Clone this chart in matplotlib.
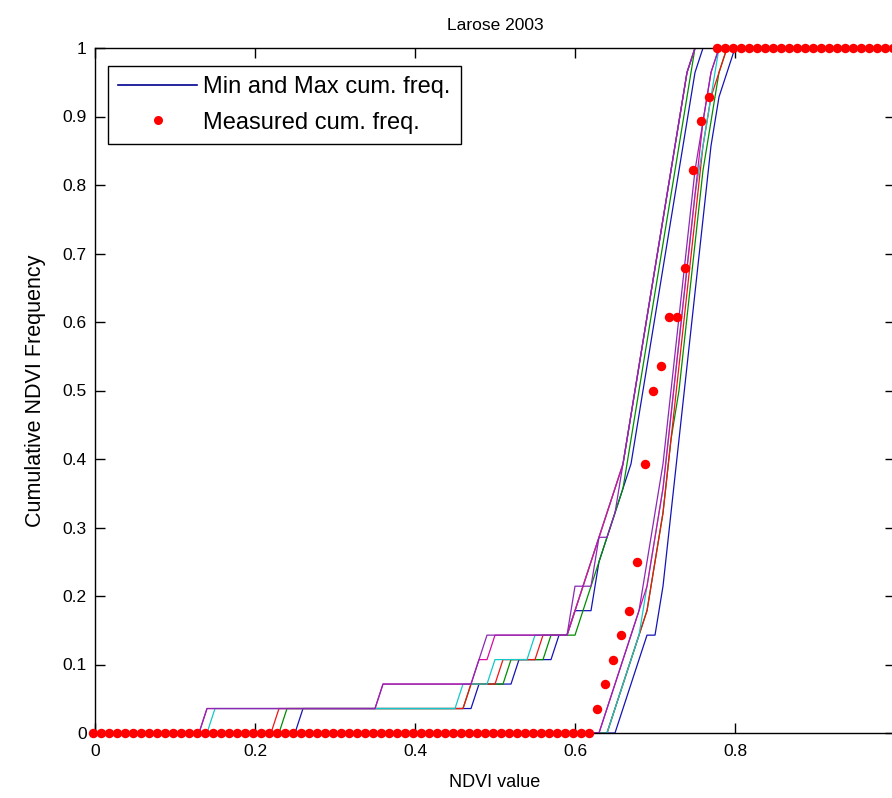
import numpy as np
import matplotlib
matplotlib.use("Agg")
import matplotlib.pyplot as plt
from matplotlib.lines import Line2D

plt.rcParams['font.family'] = ['Liberation Sans', 'DejaVu Sans']

# NDVI grid on which the cumulative frequencies are evaluated
ndvi_grid = np.round(np.arange(0, 101) * 0.01, 2)

# sample NDVI values (28 per curve)
measured = [0.63, 0.64, 0.65, 0.66, 0.67, 0.68, 0.68, 0.69, 0.69, 0.69, 0.69, 0.70, 0.70, 0.70,
            0.71, 0.72, 0.72, 0.74, 0.74, 0.75, 0.75, 0.75, 0.75, 0.76, 0.76, 0.77, 0.78, 0.78]

# lower envelope (min) curves
blue_min = [0.26, 0.48, 0.53, 0.58, 0.60, 0.63, 0.63, 0.64, 0.65, 0.66, 0.67, 0.68, 0.68, 0.69,
            0.69, 0.70, 0.70, 0.71, 0.71, 0.72, 0.72, 0.73, 0.73, 0.74, 0.74, 0.75, 0.75, 0.76]
green_min = [0.24, 0.47, 0.52, 0.57, 0.61, 0.62, 0.63, 0.64, 0.65, 0.66, 0.67, 0.67, 0.68, 0.68,
             0.69, 0.69, 0.70, 0.70, 0.71, 0.71, 0.72, 0.72, 0.73, 0.73, 0.74, 0.74, 0.75, 0.75]
red_min = [0.23, 0.47, 0.51, 0.56, 0.60, 0.61, 0.62, 0.63, 0.64, 0.65, 0.66, 0.67, 0.67, 0.68,
           0.68, 0.69, 0.69, 0.70, 0.70, 0.71, 0.71, 0.72, 0.72, 0.73, 0.73, 0.74, 0.74, 0.75]
cyan_min = [0.15, 0.46, 0.50, 0.55, 0.60, 0.61, 0.62, 0.63, 0.64, 0.65, 0.66, 0.67, 0.67, 0.68,
            0.68, 0.69, 0.69, 0.70, 0.70, 0.71, 0.71, 0.72, 0.72, 0.73, 0.73, 0.74, 0.74, 0.75]
magenta_min = [0.14, 0.36, 0.48, 0.50, 0.60, 0.61, 0.62, 0.63, 0.64, 0.65, 0.66, 0.67, 0.67, 0.68,
               0.68, 0.69, 0.69, 0.70, 0.70, 0.71, 0.71, 0.72, 0.72, 0.73, 0.73, 0.74, 0.74, 0.75]
purple_min = [0.14, 0.36, 0.48, 0.49, 0.60, 0.60, 0.63, 0.63, 0.65, 0.66, 0.66, 0.67, 0.67, 0.68,
              0.68, 0.69, 0.69, 0.70, 0.70, 0.71, 0.71, 0.72, 0.72, 0.73, 0.73, 0.74, 0.74, 0.75]

# upper envelope (max) curves
blue_max = [0.66, 0.67, 0.68, 0.69, 0.71, 0.71, 0.72, 0.72, 0.72, 0.73, 0.73, 0.73, 0.74, 0.74,
            0.74, 0.75, 0.75, 0.75, 0.76, 0.76, 0.76, 0.77, 0.77, 0.77, 0.78, 0.78, 0.79, 0.80]
green_max = [0.65, 0.66, 0.67, 0.68, 0.69, 0.70, 0.70, 0.71, 0.71, 0.72, 0.72, 0.72, 0.73, 0.73,
             0.74, 0.74, 0.74, 0.75, 0.75, 0.75, 0.76, 0.76, 0.76, 0.77, 0.77, 0.78, 0.78, 0.79]
red_max = [0.65, 0.66, 0.67, 0.68, 0.69, 0.70, 0.70, 0.71, 0.71, 0.72, 0.72, 0.72, 0.73, 0.73,
           0.73, 0.74, 0.74, 0.74, 0.75, 0.75, 0.75, 0.76, 0.76, 0.76, 0.77, 0.77, 0.78, 0.79]
cyan_max = [0.65, 0.66, 0.67, 0.68, 0.69, 0.69, 0.70, 0.70, 0.71, 0.71, 0.72, 0.72, 0.72, 0.73,
            0.73, 0.73, 0.74, 0.74, 0.74, 0.75, 0.75, 0.75, 0.76, 0.76, 0.77, 0.77, 0.78, 0.78]
magenta_max = [0.64, 0.65, 0.66, 0.67, 0.68, 0.69, 0.70, 0.70, 0.71, 0.71, 0.72, 0.72, 0.72, 0.73,
               0.73, 0.73, 0.74, 0.74, 0.74, 0.75, 0.75, 0.75, 0.76, 0.76, 0.76, 0.77, 0.77, 0.78]
purple_max = [0.64, 0.65, 0.66, 0.67, 0.68, 0.69, 0.69, 0.70, 0.70, 0.71, 0.71, 0.72, 0.72, 0.72,
              0.73, 0.73, 0.73, 0.74, 0.74, 0.74, 0.75, 0.75, 0.75, 0.76, 0.76, 0.77, 0.77, 0.78]

curves = [
    (blue_min, blue_max, '#1414b4'),
    (green_min, green_max, '#008c00'),
    (red_min, red_max, '#f01414'),
    (cyan_min, cyan_max, '#14c8c8'),
    (magenta_min, magenta_max, '#dc0aa0'),
    (purple_min, purple_max, '#8c28b4'),
]


def cum_freq(samples):
    s = np.array(samples)
    return np.array([(s <= x + 1e-9).sum() for x in ndvi_grid]) / len(s)


fig = plt.figure(figsize=(8.92, 7.98), dpi=100)
ax = fig.add_axes([95 / 892, 1 - 733 / 798, 800 / 892, 685 / 798])

for cmin, cmax, col in curves:
    ax.plot(ndvi_grid, cum_freq(cmin), color=col, lw=0.9)
    ax.plot(ndvi_grid, cum_freq(cmax), color=col, lw=0.9)

ax.plot(ndvi_grid - 0.002, cum_freq(measured), 'o', color='#ff0000', ms=6.8, mec='none',
        clip_on=False, zorder=5)

ax.set_xlim(0, 1)
ax.set_ylim(0, 1)
ax.set_xticks([0, 0.2, 0.4, 0.6, 0.8, 1])
ax.set_yticks(np.round(np.arange(0, 11) * 0.1, 1))
ax.xaxis.set_major_formatter(plt.FuncFormatter(lambda v, p: f"{v:g}"))
ax.yaxis.set_major_formatter(plt.FuncFormatter(lambda v, p: f"{v:g}"))
ax.tick_params(direction='in', length=7, width=1, top=True, right=True, labelsize=12.5)
ax.tick_params(axis='x', pad=8)
ax.tick_params(axis='y', pad=6)
for sp in ax.spines.values():
    sp.set_linewidth(1.0)

ax.set_title("Larose 2003", fontsize=12.5, pad=13)
ax.set_xlabel("NDVI value", fontsize=13, labelpad=11)
ax.set_ylabel("Cumulative NDVI Frequency", fontsize=15.5, labelpad=12)

handles = [Line2D([], [], color='#000090', lw=1.2),
           Line2D([], [], ls='none', marker='o', color='#ff0000', ms=6.5, mec='none')]
leg = ax.legend(handles, ["Min and Max cum. freq.", "Measured cum. freq."],
                loc='upper left', bbox_to_anchor=(13 / 800, 1 - 18 / 685), borderaxespad=0,
                fontsize=17, handlelength=3.35, handletextpad=0.25, borderpad=0.43,
                labelspacing=0.57, fancybox=False, framealpha=1, edgecolor='black')
leg.get_frame().set_linewidth(1.0)

fig.savefig("out.png", dpi=100)
